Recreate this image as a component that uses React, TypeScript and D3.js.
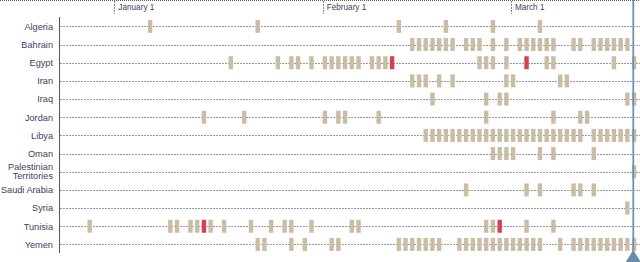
import React from "react";
import * as d3 from "d3";

// Countries (rows)
const countries = [
  "Algeria", "Bahrain", "Egypt", "Iran", "Iraq", "Jordan", "Libya", "Oman",
  "Palestinian Territories", "Saudi Arabia", "Syria", "Tunisia", "Yemen",
];

// Protest days per country, as day offsets from January 1, 2011
const algeriaDays = [5, 21, 42, 49, 56, 63];
const bahrainDays = [44, 45, 46, 47, 48, 49, 50, 52, 53, 54, 56, 58, 60, 61, 62, 63, 64, 65, 68, 69, 71, 72, 73, 74, 75, 76];
const egyptDays = [17, 24, 26, 27, 29, 31, 32, 33, 34, 35, 36, 38, 39, 40, 41, 54, 55, 56, 58, 61, 64, 65, 74, 77];
const iranDays = [44, 45, 46, 48, 50, 58, 59, 66, 67];
const iraqDays = [47, 55, 57, 58, 76, 77];
const jordanDays = [13, 19, 31, 33, 34, 39, 55, 65, 69, 70];
const libyaDays = [46, 47, 48, 49, 50, 51, 52, 53, 54, 55, 56, 57, 58, 59, 60, 61, 62, 63, 64, 65, 66, 67, 68, 69, 71, 72, 73, 74, 75, 76, 77];
const omanDays = [56, 57, 58, 59, 63, 65, 71];
const palestinianDays = [77];
const saudiDays = [52, 61, 63, 68, 69, 71];
const syriaDays = [76];
const tunisiaDays = [-4, 8, 9, 11, 12, 13, 14, 16, 20, 23, 25, 26, 29, 35, 36, 55, 56, 57, 61, 65];
const yemenDays = [21, 22, 26, 28, 32, 33, 42, 43, 44, 45, 46, 47, 48, 51, 52, 53, 54, 55, 56, 57, 58, 59, 60, 61, 62, 63, 66, 68, 69, 70, 71, 72, 73, 74, 75, 76, 77];

const daysByCountry = [
  algeriaDays, bahrainDays, egyptDays, iranDays, iraqDays, jordanDays, libyaDays,
  omanDays, palestinianDays, saudiDays, syriaDays, tunisiaDays, yemenDays,
];

// Highlighted events (leader / government ousted)
const highlightCountries = ["Tunisia", "Egypt", "Tunisia", "Egypt"];
const highlightDays = [13, 41, 57, 61];

const BASE = new Date(2011, 0, 1);
const START = new Date(2010, 11, 24);
const END = new Date(2011, 2, 20);
const TODAY = new Date(2011, 2, 19, 5);

const W = 640;
const H = 262;

export default function App() {
  const x = d3.scaleTime().domain([START, END]).range([60.6, 638.6]);
  const y = d3.scaleBand<string>().domain(countries).range([17.3, 253.5]);
  const dayDate = (d: number) => d3.timeDay.offset(BASE, d);
  const months = d3.timeMonth.range(d3.timeDay.offset(START, 1), END);
  const fmt = d3.timeFormat("%B %-d");
  const isHighlight = (c: string, d: number) =>
    highlightCountries.some((hc, i) => hc === c && highlightDays[i] === d);

  const labelColor = "#4a3a5c";
  const font = "'Liberation Sans', Arial, sans-serif";
  const todayX = x(TODAY);

  return (
    <svg
      width={W}
      height={H}
      style={{ position: "absolute", left: 0, top: 0, display: "block" }}
      fontFamily={font}
    >
      <rect x={0} y={0} width={W} height={H} fill="#fff" />
      {/* top border */}
      <line x1={0} x2={W} y1={0.5} y2={0.5} stroke="#5e5e48" strokeDasharray="1,1" />
      {/* month ticks */}
      {months.map((m) => (
        <g key={+m}>
          <line
            x1={Math.round(x(m)) + 0.5}
            x2={Math.round(x(m)) + 0.5}
            y1={1}
            y2={14}
            stroke="#8a8a8a"
            strokeDasharray="2,1"
          />
          <text x={x(m) + 4} y={10} fontSize={8.2} fill={labelColor}>
            {fmt(m)}
          </text>
        </g>
      ))}
      {/* row dashed lines */}
      {countries.map((c) => {
        const cy = Math.round(y(c)! + y.bandwidth() / 2) + 0.5;
        return (
          <line
            key={c}
            x1={60}
            x2={W}
            y1={cy}
            y2={cy}
            stroke="#9a9a9a"
            strokeDasharray="2,1"
          />
        );
      })}
      {/* left axis */}
      <line x1={59.5} x2={59.5} y1={17} y2={253} stroke="#555" />
      {/* row labels */}
      {countries.map((c) => {
        const cy = y(c)! + y.bandwidth() / 2;
        if (c === "Palestinian Territories") {
          return (
            <text key={c} x={53} textAnchor="end" fontSize={9.2} fill={labelColor}>
              <tspan x={53} y={cy - 2}>Palestinian</tspan>
              <tspan x={53} y={cy + 7.5}>Territories</tspan>
            </text>
          );
        }
        return (
          <text key={c} x={53} y={cy + 3.3} textAnchor="end" fontSize={9.2} fill={labelColor}>
            {c}
          </text>
        );
      })}
      {/* bars */}
      {countries.map((c, i) =>
        daysByCountry[i].map((d) => {
          const cy = y(c)! + y.bandwidth() / 2;
          const hl = isHighlight(c, d);
          return (
            <rect
              key={c + d}
              x={x(dayDate(d))}
              y={cy - 6.5}
              width={4.4}
              height={13}
              fill={hl ? "#d7404e" : "#c9bda6"}
            />
          );
        })
      )}
      {/* today marker */}
      <line x1={todayX} x2={todayX} y1={0} y2={256} stroke="#7090b4" strokeWidth={1.8} />
      <path
        d={`M${todayX - 7.5},${H} L${todayX + 7.5},${H} L${todayX},${H - 12} Z`}
        fill="#6b8bb0"
      />
    </svg>
  );
}
